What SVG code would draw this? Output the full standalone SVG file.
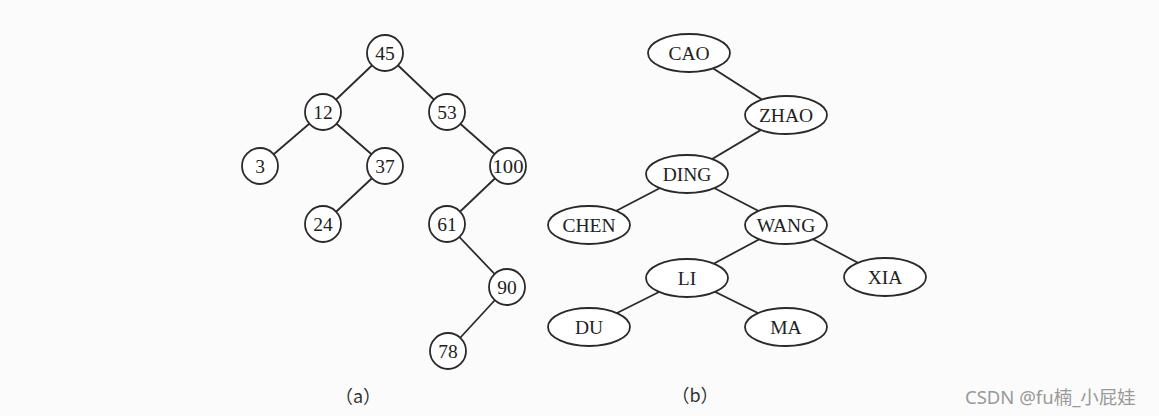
<svg xmlns="http://www.w3.org/2000/svg" width="1159" height="416" viewBox="0 0 1159 416">
<style>
.n{fill:#fff;stroke:#2a2a2a;stroke-width:1.8}
.e{stroke:#2a2a2a;stroke-width:1.8;fill:none}
.t{font-family:"Liberation Serif","Times New Roman",serif;font-size:19.5px;fill:#222;text-anchor:middle;dominant-baseline:central}
.c{font-family:"Noto Sans CJK SC",sans-serif;font-size:18px;fill:#333;text-anchor:middle}
.w{font-family:"Noto Sans","Noto Sans CJK SC",sans-serif;font-size:18.5px;fill:#999}
</style>
<rect width="1159" height="416" fill="#fbfbfb"/>
<g id="connectors">
<line class="e" x1="385" y1="53" x2="323" y2="112"/>
<line class="e" x1="385" y1="53" x2="447" y2="112"/>
<line class="e" x1="323" y1="112" x2="260" y2="166"/>
<line class="e" x1="323" y1="112" x2="385" y2="166"/>
<line class="e" x1="385" y1="166" x2="323" y2="224"/>
<line class="e" x1="447" y1="112" x2="508" y2="166"/>
<line class="e" x1="508" y1="166" x2="447" y2="224"/>
<line class="e" x1="447" y1="224" x2="507" y2="287"/>
<line class="e" x1="507" y1="287" x2="448" y2="351"/>
<line class="e" x1="689" y1="53" x2="786" y2="115"/>
<line class="e" x1="786" y1="115" x2="687" y2="174"/>
<line class="e" x1="687" y1="174" x2="589" y2="225"/>
<line class="e" x1="687" y1="174" x2="786" y2="225"/>
<line class="e" x1="786" y1="225" x2="687" y2="278"/>
<line class="e" x1="786" y1="225" x2="885" y2="277"/>
<line class="e" x1="687" y1="278" x2="589" y2="327"/>
<line class="e" x1="687" y1="278" x2="786" y2="327"/>
</g>
<g id="n45"><circle class="n" cx="385" cy="53" r="18"/><text class="t" x="385" y="53">45</text></g>
<g id="n12"><circle class="n" cx="323" cy="112" r="18"/><text class="t" x="323" y="112">12</text></g>
<g id="n53"><circle class="n" cx="447" cy="112" r="18"/><text class="t" x="447" y="112">53</text></g>
<g id="n3"><circle class="n" cx="260" cy="166" r="18"/><text class="t" x="260" y="166">3</text></g>
<g id="n37"><circle class="n" cx="385" cy="166" r="18"/><text class="t" x="385" y="166">37</text></g>
<g id="n100"><circle class="n" cx="508" cy="166" r="18"/><text class="t" x="508" y="166" textLength="31" lengthAdjust="spacingAndGlyphs">100</text></g>
<g id="n24"><circle class="n" cx="323" cy="224" r="18"/><text class="t" x="323" y="224">24</text></g>
<g id="n61"><circle class="n" cx="447" cy="224" r="18"/><text class="t" x="447" y="224">61</text></g>
<g id="n90"><circle class="n" cx="507" cy="287" r="18"/><text class="t" x="507" y="287">90</text></g>
<g id="n78"><circle class="n" cx="448" cy="351" r="18"/><text class="t" x="448" y="351">78</text></g>
<g id="cao"><ellipse class="n" cx="689" cy="53" rx="41" ry="19"/><text class="t" x="689" y="53">CAO</text></g>
<g id="zhao"><ellipse class="n" cx="786" cy="115" rx="41" ry="19"/><text class="t" x="786" y="115">ZHAO</text></g>
<g id="ding"><ellipse class="n" cx="687" cy="174" rx="41" ry="19"/><text class="t" x="687" y="174">DING</text></g>
<g id="chen"><ellipse class="n" cx="589" cy="225" rx="41" ry="19"/><text class="t" x="589" y="225">CHEN</text></g>
<g id="wang"><ellipse class="n" cx="786" cy="225" rx="41" ry="19"/><text class="t" x="786" y="225">WANG</text></g>
<g id="li"><ellipse class="n" cx="687" cy="278" rx="41" ry="19"/><text class="t" x="687" y="278">LI</text></g>
<g id="xia"><ellipse class="n" cx="885" cy="277" rx="41" ry="19"/><text class="t" x="885" y="277">XIA</text></g>
<g id="du"><ellipse class="n" cx="589" cy="327" rx="41" ry="19"/><text class="t" x="589" y="327">DU</text></g>
<g id="ma"><ellipse class="n" cx="786" cy="327" rx="41" ry="19"/><text class="t" x="786" y="327">MA</text></g>
<text class="c" x="358" y="403">（a）</text>
<text class="c" x="695" y="402">（b）</text>
<text class="w" x="965" y="404">CSDN @fu楠_小屁娃</text>
</svg>
